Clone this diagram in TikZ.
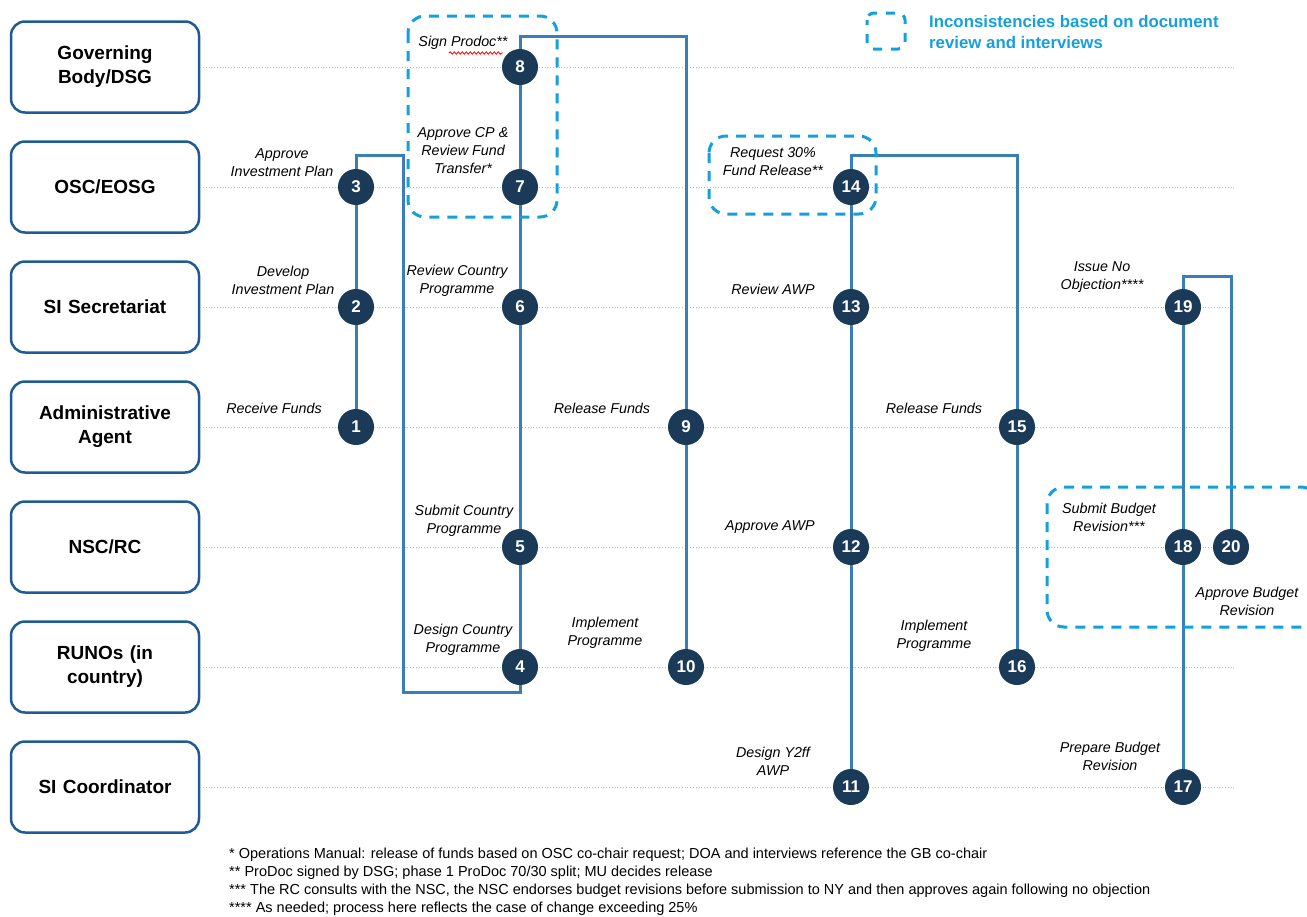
\documentclass[tikz,border=0pt]{standalone}
\usepackage{fontspec}
\setmainfont{Liberation Sans}
\usetikzlibrary{positioning,decorations.pathmorphing}
\definecolor{navy}{RGB}{27,58,87}
\definecolor{flowblue}{RGB}{58,126,184}
\definecolor{laneblue}{RGB}{30,90,150}
\definecolor{cyanblue}{RGB}{20,160,220}
\tikzset{
  lanebox/.style={
    draw=laneblue,
    line width=2.5pt,
    rounded corners=14pt,
    minimum width=188pt,
    minimum height=91pt,
    text width=175pt,
    align=center,
    font=\bfseries\fontsize{19}{24}\selectfont
  },
  stepnum/.style={
    circle,
    fill=navy,
    text=white,
    minimum size=36pt,
    inner sep=0pt,
    font=\bfseries\fontsize{17}{17}\selectfont
  },
  actlabel/.style={
    align=center,
    inner sep=0pt,
    font=\itshape\fontsize{14.3}{18}\selectfont
  },
  flow/.style={draw=flowblue, line width=3pt},
  laneline/.style={draw=gray!55, dotted, line width=0.8pt},
  inconsist/.style={draw=cyanblue, line width=3pt, dash pattern=on 10pt off 8pt, rounded corners=17pt}
}

\begin{document}
\begin{tikzpicture}[x=1pt,y=-1pt]
\useasboundingbox (0,0) rectangle (1307,916);

% swimlanes
\node[lanebox] (gov) at (105,67) {Governing\\Body/DSG};
\node[lanebox] (osc) at (105,187) {OSC/EOSG};
\node[lanebox] (sec) at (105,307) {SI Secretariat};
\node[lanebox] (aa) at (105,427) {Administrative\\Agent};
\node[lanebox] (nsc) at (105,547) {NSC/RC};
\node[lanebox] (runo) at (105,667) {RUNOs (in\\country)};
\node[lanebox] (coord) at (105,787) {SI Coordinator};

\foreach \lane/\y in {gov/67,osc/187,sec/307,aa/427,nsc/547,runo/667,coord/787}
  \draw[laneline] (\lane.east) -- (1235,\y);

% steps
\node[stepnum] (n1) at (356,427) {1};
\node[stepnum] (n2) at (356,307) {2};
\node[stepnum] (n3) at (356,187) {3};
\node[stepnum] (n4) at (520,667) {4};
\node[stepnum] (n5) at (520,547) {5};
\node[stepnum] (n6) at (520,307) {6};
\node[stepnum] (n7) at (520,187) {7};
\node[stepnum] (n8) at (520,67) {8};
\node[stepnum] (n9) at (686,427) {9};
\node[stepnum] (n10) at (686,667) {10};
\node[stepnum] (n11) at (851,787) {11};
\node[stepnum] (n12) at (851,547) {12};
\node[stepnum] (n13) at (851,307) {13};
\node[stepnum] (n14) at (851,187) {14};
\node[stepnum] (n15) at (1017,427) {15};
\node[stepnum] (n16) at (1017,667) {16};
\node[stepnum] (n17) at (1183,787) {17};
\node[stepnum] (n18) at (1183,547) {18};
\node[stepnum] (n19) at (1183,307) {19};
\node[stepnum] (n20) at (1231,547) {20};

% flow
\draw[flow] (n1) -- (n2) -- (n3);
\draw[flow] (n3) |- (403,155) -- (403,692) -| (n4);
\draw[flow] (n4) -- (n5) -- (n6) -- (n7) -- (n8);
\draw[flow] (n8) -- (520,36) -| (n9);
\draw[flow] (n9) -- (n10);
\draw[flow] (n11) -- (n12) -- (n13) -- (n14);
\draw[flow] (n14) -- (851,155) -| (n15);
\draw[flow] (n15) -- (n16);
\draw[flow] (n17) -- (n18) -- (n19);
\draw[flow] (n19) -- (1183,276) -| (n20);

% step labels
\node[actlabel] (l1) at (274,408) {Receive Funds};
\node[actlabel] (l2) at (283,280) {Develop\\Investment Plan};
\node[actlabel] (l3) at (282,163) {Approve\\Investment Plan};
\node[actlabel] (l4) at (463,640) {Design Country\\Programme};
\node[actlabel] (l5) at (464,521) {Submit Country\\Programme};
\node[actlabel] (l6) at (457,281) {Review Country\\Programme};
\node[actlabel] (l7) at (463,151) {Approve CP \&\\Review Fund\\Transfer*};
\node[actlabel] (l8) at (463,43) {Sign Prodoc**};
\node[actlabel] (l9) at (602,408) {Release Funds};
\node[actlabel] (l10) at (605,633) {Implement\\Programme};
\node[actlabel] (l11) at (773,761) {Design Y2ff\\AWP};
\node[actlabel] (l12) at (770,527) {Approve AWP};
\node[actlabel] (l13) at (773,289) {Review AWP};
\node[actlabel] (l14) at (773,162) {Request 30\%\\Fund Release**};
\node[actlabel] (l15) at (934,408) {Release Funds};
\node[actlabel] (l16) at (934,636) {Implement\\Programme};
\node[actlabel] (l17) at (1110,756) {Prepare Budget\\Revision};
\node[actlabel] (l18) at (1109,517) {Submit Budget\\Revision***};
\node[actlabel] (l19) at (1102,277) {Issue No\\Objection****};
\node[actlabel] (l20) at (1247,601) {Approve Budget\\Revision};

\draw[red, line width=0.8pt, decorate, decoration={snake, amplitude=1.2pt, segment length=4pt}]
  (449,53) -- (503,53);

% inconsistencies
\draw[inconsist] (408,16) rectangle (557,217);
\draw[inconsist] (709,136) rectangle (876,214);
\draw[inconsist] (1047,487) rectangle (1318,627);

% legend
\draw[inconsist, rounded corners=7pt, dash pattern=on 9pt off 9pt, dash phase=4pt] (867,13) rectangle (905,49);
\node[anchor=west, align=left, inner sep=0pt, text=cyanblue, font=\bfseries\fontsize{16.8}{21}\selectfont] (legend) at (929,32)
  {Inconsistencies based on document\\review and interviews};

% footnotes
\node[anchor=north west, align=left, inner sep=0pt, font=\fontsize{14.5}{18}\selectfont] (notes) at (229,848)
  {* Operations Manual: release of funds based on OSC co-chair request; DOA and interviews reference the GB co-chair\\
   ** ProDoc signed by DSG; phase 1 ProDoc 70/30 split; MU decides release\\
   *** The RC consults with the NSC, the NSC endorses budget revisions before submission to NY and then approves again following no objection\\
   **** As needed; process here reflects the case of change exceeding 25\%};

\end{tikzpicture}
\end{document}
